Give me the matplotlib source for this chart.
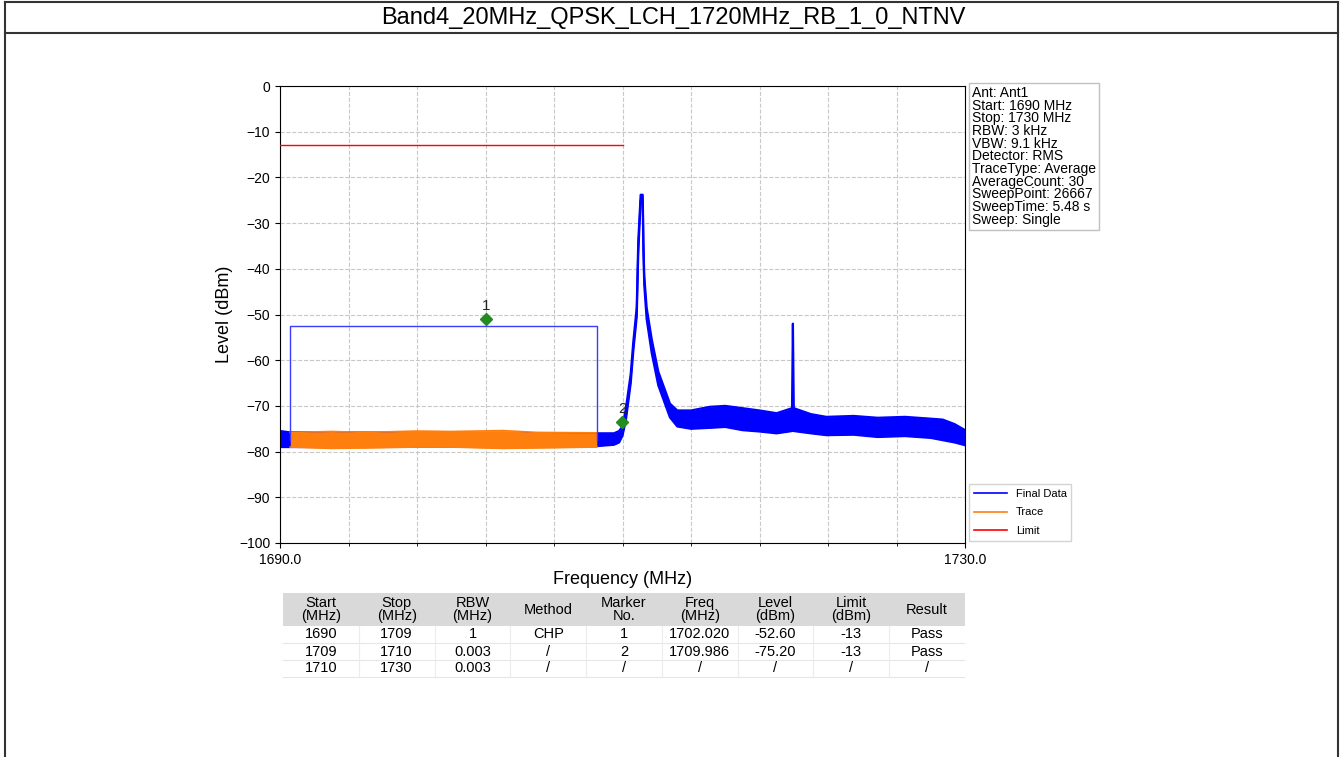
import matplotlib

matplotlib.use("Agg")
from matplotlib import pyplot as plt
from matplotlib.lines import Line2D
from matplotlib.patches import Rectangle

plt.rcParams["font.family"] = ["Liberation Sans", "DejaVu Sans"]

TITLE = "Band4_20MHz_QPSK_LCH_1720MHz_RB_1_0_NTNV"

# Final data envelope: frequency, lower and upper level of the noisy trace
final_freq = [1690.0, 1690.6, 1708.5, 1709.5, 1709.8, 1710.0, 1710.2, 1710.48, 1710.63,
              1710.83, 1710.92, 1711.06, 1711.18, 1711.22, 1711.27, 1711.41, 1711.71,
              1712.09, 1712.77, 1713.2, 1714.0, 1715.1, 1716.0, 1717.0, 1718.0, 1719.0,
              1719.9, 1719.95, 1720.0, 1721.0, 1721.9, 1723.5, 1724.9, 1726.5, 1728.0,
              1728.7, 1729.4, 1730.0]
final_low = [-79.0, -79.0, -78.8, -78.5, -78.0, -76.5, -73.0, -65.0, -58.0,
             -50.5, -36.5, -25.0, -25.0, -36.0, -43.5, -51.0, -58.5,
             -65.5, -72.5, -74.5, -75.0, -74.8, -74.6, -75.3, -75.6, -76.0,
             -75.5, -74.0, -75.5, -76.0, -76.4, -76.3, -76.8, -76.6, -77.0,
             -77.5, -78.0, -78.6]
final_high = [-75.5, -75.8, -76.0, -76.0, -75.5, -74.5, -70.5, -63.0, -56.0,
              -48.5, -34.0, -23.8, -23.8, -34.0, -41.5, -48.5, -55.5,
              -62.5, -69.5, -71.0, -71.0, -70.2, -70.0, -70.5, -71.0, -71.6,
              -70.5, -52.0, -70.5, -71.8, -72.4, -72.2, -72.6, -72.4, -72.8,
              -73.0, -74.0, -75.3]

# Trace (orange) envelope over the channel power band
trace_freq = [1690.6, 1693.0, 1695.0, 1698.0, 1700.0, 1703.0, 1705.0, 1708.5]
trace_low = [-79.0, -79.3, -79.2, -79.0, -79.0, -79.3, -79.2, -79.0]
trace_high = [-75.8, -75.6, -75.8, -75.5, -75.6, -75.4, -75.8, -75.9]

# Limit line
limit_freq = [1690.0, 1710.0]
limit_level = [-13.0, -13.0]

# Channel power box
chp_start, chp_stop, chp_level, chp_base = 1690.6, 1708.5, -52.6, -77.5

# Markers (as drawn)
marker_no = ["1", "2"]
marker_freq = [1702.020, 1709.986]
marker_level = [-51.0, -73.5]

info_lines = [
    "Ant: Ant1", "Start: 1690 MHz", "Stop: 1730 MHz", "RBW: 3 kHz", "VBW: 9.1 kHz",
    "Detector: RMS", "TraceType: Average", "AverageCount: 30", "SweepPoint: 26667",
    "SweepTime: 5.48 s", "Sweep: Single",
]

table_header = ["Start\n(MHz)", "Stop\n(MHz)", "RBW\n(MHz)", "Method", "Marker\nNo.",
                "Freq\n(MHz)", "Level\n(dBm)", "Limit\n(dBm)", "Result"]
table_rows = [
    ["1690", "1709", "1", "CHP", "1", "1702.020", "-52.60", "-13", "Pass"],
    ["1709", "1710", "0.003", "/", "2", "1709.986", "-75.20", "-13", "Pass"],
    ["1710", "1730", "0.003", "/", "/", "/", "/", "/", "/"],
]

W, H = 1343, 757
fig = plt.figure(figsize=(W / 100, H / 100), dpi=100)

# page frame and title row
for xs, ys in (
    ([5 / W, 1338 / W], [1 - 2 / H, 1 - 2 / H]),
    ([5 / W, 1338 / W], [1 - 33 / H, 1 - 33 / H]),
    ([5 / W, 5 / W], [0, 1 - 2 / H]),
    ([1338 / W, 1338 / W], [0, 1 - 2 / H]),
):
    fig.add_artist(Line2D(xs, ys, transform=fig.transFigure, color="#333333", lw=1.5))
fig.text(0.501, 1 - 18 / H, TITLE, ha="center", va="center", fontsize=17)

ax = fig.add_axes([280 / W, 1 - 543 / H, 685 / W, 457 / H])
# final data band
ax.fill_between(final_freq, final_low, final_high, color="#0000ff", lw=0, zorder=2)
ax.plot(final_freq, final_low, color="#0000ff", lw=1.6, zorder=2)
ax.plot(final_freq, final_high, color="#0000ff", lw=1.6, zorder=2)
# trace band on top
ax.fill_between(trace_freq, trace_low, trace_high, color="#ff7f0e", lw=0, zorder=3)
ax.plot(trace_freq, trace_low, color="#ff7f0e", lw=1.2, zorder=3)
ax.plot(trace_freq, trace_high, color="#ff7f0e", lw=1.2, zorder=3)
ax.plot(limit_freq, limit_level, color="#ff0000", lw=1, zorder=4)
ax.plot([chp_start, chp_start, chp_stop, chp_stop],
        [chp_base, chp_level, chp_level, chp_base], color="#3c3cff", lw=1, zorder=4)
ax.plot(marker_freq, marker_level, "D", color="#228b22", markersize=6, ls="none", zorder=5)
for n, f, lv in zip(marker_no, marker_freq, marker_level):
    ax.text(f, lv + 1.3, n, ha="center", va="bottom", fontsize=11, color="#222222", zorder=5)

ax.set_xlim(1690, 1730)
ax.set_ylim(-100, 0)
ax.set_xticks([1690, 1730])
ax.set_xticklabels(["1690.0", "1730.0"])
ax.set_xticks(range(1694, 1730, 4), minor=True)
ax.set_yticks(range(-100, 1, 10))
ax.tick_params(labelsize=10)
ax.grid(which="both", ls="--", color="#c8c8c8", lw=0.8)
ax.set_axisbelow(True)
ax.set_xlabel("Frequency (MHz)", fontsize=13, labelpad=3)
ax.set_ylabel("Level (dBm)", fontsize=13)

handles = [Line2D([], [], color="#0000ff", lw=1.2),
           Line2D([], [], color="#ff7f0e", lw=1.2),
           Line2D([], [], color="#ff0000", lw=1.2)]
ax.legend(handles, ["Final Data", "Trace", "Limit"], loc="lower left",
          bbox_to_anchor=(1.003, 0.0), fontsize=8, fancybox=False,
          edgecolor="#c8c8c8", borderaxespad=0.2, labelspacing=0.8,
          handlelength=3.0)

fig.text(972 / W, 1 - 86 / H, "\n".join(info_lines), ha="left", va="top", fontsize=10,
         linespacing=0.88,
         bbox=dict(boxstyle="square,pad=0.2", fc="white", ec="#c0c0c0"))

# results table
tax = fig.add_axes([283 / W, 1 - 680 / H, 682 / W, 87 / H])
tax.set_xlim(0, 9)
tax.set_ylim(87, 0)
tax.axis("off")
tax.add_patch(Rectangle((0, 0), 9, 33, color="#d9d9d9", lw=0))
for j, h in enumerate(table_header):
    tax.text(j + 0.5, 16.5, h, ha="center", va="center", fontsize=10.5, linespacing=0.95)
for i, row in enumerate(table_rows):
    yc = 41.5 + 17 * i
    tax.plot([0, 9], [yc + 8.5, yc + 8.5], color="#e6e6e6", lw=0.8)
    for j, v in enumerate(row):
        tax.text(j + 0.5, yc, v, ha="center", va="center", fontsize=10.5)
for j in range(1, 9):
    tax.plot([j, j], [33, 84], color="#ececec", lw=0.8)

fig.savefig("out.png", dpi=100)
